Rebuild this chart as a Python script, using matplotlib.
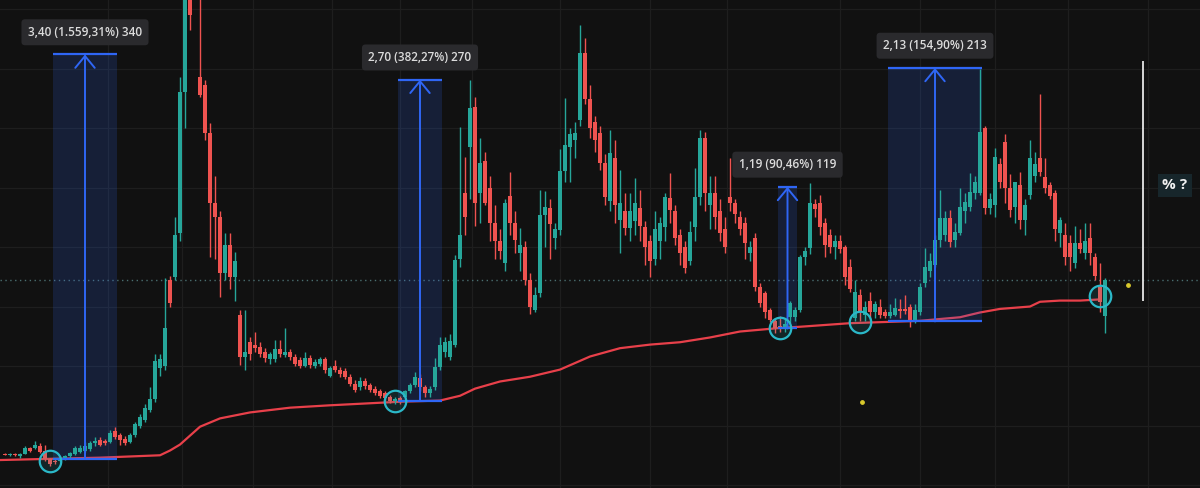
import matplotlib
matplotlib.use("Agg")
import matplotlib.pyplot as plt
import numpy as np

plt.rcParams['font.family'] = ['Open Sans', 'DejaVu Sans']

# daily candles (price)
opens = [
    .26, .25, .26, .24, .26, .31, .31, .33, .29, .22,
    .20, .20, .22, .24, .26, .28, .29, .30, .35, .38,
    .37, .36, .45, .42, .39, .36, .42, .50, .55, .63,
    .72, .98, 1.00, 1.72, 1.75, 2.12, 3.30, 4.30, 4.40, 3.43,
    3.36, 2.96, 2.37, 2.25, 1.78, 2.02, 1.75, 1.43, 1.08, 1.20,
    1.18, 1.16, 1.12, 1.06, 1.06, 1.14, 1.09, 1.12, 1.08, 1.05,
    1.00, 1.07, 1.00, 1.02, 1.06, 0.92, 1.00, 0.97, 0.96, 0.91,
    0.85, 0.82, 0.87, 0.84, 0.81, 0.79, 0.77, 0.74, 0.71, 0.73,
    0.74, 0.79, 0.84, 0.90, 0.82, 0.77, 0.82, 0.99, 1.12, 1.08,
    1.18, 1.90, 2.45, 2.84, 3.18, 2.45, 2.72, 2.50, 2.20, 2.05,
    1.87, 2.43, 2.20, 1.95, 2.00, 1.72, 1.47, 1.61, 2.27, 2.33,
    2.08, 2.14, 2.64, 2.84, 2.90, 3.07, 3.63, 3.24, 3.05, 2.96,
    2.71, 2.39, 2.75, 2.23, 2.30, 2.16, 2.22, 2.33, 2.17, 2.05,
    1.90, 2.05, 2.17, 2.41, 2.30, 2.10, 2.00, 1.88, 2.17, 2.42,
    2.92, 2.35, 2.45, 2.30, 2.15, 2.42, 2.37, 2.25, 2.20, 1.95,
    2.08, 1.66, 1.61, 1.47, 1.38, 1.34, 1.31, 1.41, 1.41, 1.47,
    1.92, 1.99, 2.36, 2.37, 2.20, 2.10, 2.00, 2.05, 2.00, 1.83,
    1.40, 1.60, 1.43, 1.55, 1.45, 1.50, 1.45, 1.42, 1.43, 1.48,
    1.48, 1.50, 1.38, 1.45, 1.70, 1.80, 1.85, 2.06, 2.10, 2.24,
    2.06, 2.12, 2.30, 2.34, 2.45, 2.45, 3.00, 2.33, 2.35, 2.70,
    2.88, 2.50, 2.34, 2.52, 2.23, 2.44, 2.60, 2.75, 2.59, 2.52,
    2.45, 2.12, 2.10, 2.03, 1.87, 2.03, 1.95, 2.08, 1.92, 1.66,
    1.42]
highs = [
    .27, .27, .27, .27, .33, .32, .37, .35, .34, .23,
    .23, .24, .25, .28, .33, .34, .36, .37, .40, .40,
    .39, .46, .49, .44, .41, .44, .53, .60, .68, .82,
    1.10, 1.10, 1.74, 1.76, 2.25, 3.43, 4.60, 4.70, 4.80, 4.50,
    3.40, 3.04, 2.60, 2.30, 2.12, 2.12, 1.96, 1.47, 1.47, 1.24,
    1.29, 1.20, 1.15, 1.12, 1.22, 1.22, 1.32, 1.14, 1.10, 1.08,
    1.12, 1.09, 1.06, 1.08, 1.08, 1.00, 1.05, 0.99, 0.98, 0.93,
    0.88, 0.91, 0.90, 0.86, 0.83, 0.81, 0.79, 0.76, 0.74, 0.75,
    0.80, 0.86, 0.95, 0.93, 0.84, 0.83, 1.07, 1.24, 1.24, 1.27,
    1.93, 3.01, 2.76, 3.40, 3.26, 2.92, 2.80, 2.60, 2.35, 2.15,
    2.40, 2.63, 2.30, 2.16, 2.05, 1.78, 1.66, 2.48, 2.47, 2.40,
    2.20, 2.82, 3.25, 3.00, 3.05, 3.87, 3.76, 3.36, 3.10, 3.02,
    2.78, 2.98, 2.90, 2.65, 2.45, 2.45, 2.58, 2.48, 2.22, 2.10,
    2.30, 2.25, 2.45, 2.62, 2.35, 2.15, 2.05, 2.22, 2.66, 2.98,
    2.97, 2.60, 2.60, 2.40, 2.25, 2.75, 2.40, 2.30, 2.25, 2.05,
    2.12, 1.70, 1.63, 1.49, 1.40, 1.42, 1.40, 1.55, 1.50, 1.93,
    2.00, 2.54, 2.40, 2.44, 2.24, 2.15, 2.10, 2.10, 2.02, 1.90,
    1.72, 1.65, 1.55, 1.62, 1.55, 1.56, 1.48, 1.52, 1.57, 1.56,
    1.60, 1.52, 1.52, 1.70, 1.99, 1.95, 2.10, 2.48, 2.30, 2.31,
    2.20, 2.50, 2.45, 2.62, 2.60, 3.50, 3.02, 2.45, 2.83, 2.75,
    2.95, 2.61, 2.55, 2.63, 2.40, 2.90, 2.80, 3.29, 2.75, 2.55,
    2.48, 2.25, 2.20, 2.10, 2.18, 2.15, 2.20, 2.20, 1.95, 1.87,
    1.74]
lows = [
    .25, .24, .24, .23, .26, .28, .30, .27, .20, .16,
    .18, .19, .21, .23, .25, .27, .28, .29, .33, .33,
    .34, .35, .39, .34, .34, .35, .40, .48, .53, .61,
    .70, .92, .97, 1.50, 1.72, 2.05, 3.00, 3.82, 4.10, 3.26,
    2.90, 1.92, 1.90, 1.58, 1.72, 1.65, 1.55, 1.01, 0.97, 1.05,
    1.12, 1.08, 1.03, 1.02, 1.03, 1.08, 1.08, 1.05, 1.00, 0.98,
    0.99, 0.98, 0.98, 1.00, 0.94, 0.91, 0.95, 0.91, 0.89, 0.83,
    0.78, 0.80, 0.81, 0.78, 0.76, 0.73, 0.71, 0.69, 0.68, 0.68,
    0.73, 0.77, 0.82, 0.79, 0.74, 0.74, 0.80, 0.97, 1.08, 1.05,
    1.16, 1.83, 2.10, 2.40, 2.18, 2.20, 2.35, 2.05, 1.90, 1.90,
    1.80, 2.10, 1.95, 1.80, 1.68, 1.44, 1.45, 1.58, 2.00, 1.90,
    1.98, 2.10, 2.55, 2.55, 2.75, 3.02, 3.20, 2.92, 2.80, 2.65,
    2.35, 2.30, 2.20, 1.95, 2.10, 2.05, 2.10, 2.05, 1.85, 1.75,
    1.85, 1.90, 2.05, 2.20, 2.02, 1.85, 1.78, 1.85, 2.05, 2.35,
    2.30, 2.15, 2.15, 2.05, 1.95, 2.30, 2.20, 2.10, 1.90, 1.88,
    1.63, 1.50, 1.40, 1.37, 1.28, 1.29, 1.29, 1.36, 1.38, 1.45,
    1.85, 1.94, 2.25, 2.10, 1.92, 1.95, 1.90, 1.95, 1.68, 1.62,
    1.38, 1.38, 1.38, 1.38, 1.40, 1.40, 1.40, 1.40, 1.42, 1.40,
    1.44, 1.33, 1.36, 1.43, 1.66, 1.75, 1.83, 2.00, 2.05, 2.00,
    2.00, 2.10, 2.20, 2.30, 2.40, 2.44, 2.28, 2.28, 2.25, 2.50,
    2.37, 2.25, 2.20, 2.15, 2.10, 2.40, 2.55, 2.60, 2.45, 2.40,
    2.05, 2.00, 1.85, 1.80, 1.82, 1.95, 1.90, 1.85, 1.72, 1.45,
    1.28]
closes = [
    .25, .26, .25, .26, .31, .29, .34, .28, .22, .18,
    .19, .23, .24, .27, .31, .31, .33, .35, .37, .34,
    .35, .44, .40, .38, .35, .42, .51, .57, .65, .72,
    1.04, 1.06, 1.32, 1.53, 2.10, 3.30, 4.30, 3.95, 4.20, 3.28,
    2.96, 2.37, 2.25, 1.78, 2.02, 1.75, 1.88, 1.08, 1.12, 1.10,
    1.15, 1.10, 1.07, 1.10, 1.14, 1.10, 1.12, 1.08, 1.02, 1.00,
    1.07, 1.01, 1.03, 1.06, 0.97, 0.98, 0.97, 0.93, 0.91, 0.85,
    0.80, 0.87, 0.83, 0.80, 0.77, 0.75, 0.73, 0.71, 0.72, 0.70,
    0.79, 0.84, 0.91, 0.82, 0.77, 0.81, 0.99, 1.18, 1.20, 1.21,
    1.89, 2.10, 2.25, 3.17, 2.37, 2.71, 2.37, 2.20, 2.05, 1.97,
    2.37, 2.20, 2.06, 2.02, 1.72, 1.50, 1.60, 2.27, 2.34, 2.19,
    2.15, 2.64, 2.86, 2.95, 2.96, 3.63, 3.24, 3.00, 2.90, 2.71,
    2.42, 2.79, 2.35, 2.37, 2.16, 2.30, 2.37, 2.18, 2.00, 1.88,
    2.15, 2.20, 2.42, 2.31, 2.08, 1.95, 1.82, 2.13, 2.42, 2.92,
    2.45, 2.45, 2.25, 2.12, 2.00, 2.37, 2.28, 2.15, 2.03, 2.00,
    1.66, 1.53, 1.45, 1.39, 1.32, 1.31, 1.35, 1.53, 1.47, 1.92,
    1.97, 2.37, 2.32, 2.17, 2.02, 2.00, 2.05, 1.98, 1.75, 1.65,
    1.62, 1.45, 1.50, 1.45, 1.52, 1.43, 1.42, 1.45, 1.49, 1.46,
    1.46, 1.37, 1.47, 1.66, 1.83, 1.88, 2.06, 2.24, 2.24, 2.04,
    2.13, 2.34, 2.38, 2.46, 2.55, 2.97, 2.33, 2.40, 2.76, 2.55,
    2.50, 2.31, 2.55, 2.23, 2.35, 2.75, 2.70, 2.63, 2.50, 2.43,
    2.15, 2.23, 1.92, 1.92, 2.03, 1.98, 2.05, 1.95, 1.76, 1.54,
    1.72]

# long moving average (red line), sampled at bar indices
ma_idx = [-1, 9, 19, 25, 31, 33, 35, 39, 43, 49, 57, 65, 79, 87, 91, 94, 99,
          105, 111, 117, 123, 129, 135, 141, 147, 155, 159, 169, 183, 191,
          195, 199, 205, 207, 211, 215, 219]
ma_val = [0.21, 0.22, 0.23, 0.24, 0.25, 0.29, 0.34, 0.49, 0.56, 0.61, 0.65,
          0.67, 0.70, 0.71, 0.75, 0.81, 0.87, 0.91, 0.97, 1.08, 1.15, 1.18,
          1.20, 1.24, 1.29, 1.32, 1.33, 1.36, 1.38, 1.41, 1.45, 1.48, 1.50,
          1.54, 1.55, 1.55, 1.56]

# price range measurements: first / last bar, change, percent, ticks
meas_start = [10, 79, 155, 177]
meas_end = [22, 87, 158, 195]
meas_delta = [3.40, 2.70, 1.19, 2.13]
meas_pct = [1559.31, 382.27, 90.46, 154.90]
meas_ticks = [340, 270, 119, 213]

# circled touches of the moving average
circ_idx = [9, 78, 155, 171, 219]
circ_price = [0.20, 0.71, 1.32, 1.37, 1.59]

dot_idx = [171.4, 224.6]
dot_price = [0.70, 1.68]

month_lines = [20.6, 35.4, 49.6, 65.4, 79, 93.4, 111, 129, 144.4, 167, 183,
               198, 212.6, 228.6]

BG = '#111111'
GRID = '#1e1e1e'
GREEN = '#26a69a'
RED = '#ef5350'
BLUE = '#2f66f5'


def de_num(v):
    s = f"{v:,.2f}"
    return s.replace(',', '#').replace('.', ',').replace('#', '.')


fig = plt.figure(figsize=(12, 4.88), dpi=100)
fig.patch.set_facecolor(BG)
ax = fig.add_axes([0, 0, 1, 1])
ax.set_facecolor(BG)
ax.set_xlim(-1, 239)
ax.set_ylim(-0.025, 4.076)
for sp in ax.spines.values():
    sp.set_visible(False)
ax.set_xticks([])
ax.set_yticks([])

# grid
for lvl in np.arange(0, 4.01, 0.5):
    ax.axhline(lvl, color=GRID, lw=0.9, zorder=0)
for g in month_lines:
    ax.axvline(g, color=GRID, lw=0.9, zorder=0)

# last price line
ax.axhline(closes[-1], color='#4a6e70', lw=1, ls=(0, (1, 2.5)), zorder=1)

# moving average
ax.plot(ma_idx, ma_val, color='#e8404a', lw=1.6, zorder=1.5)

# measurement boxes
for s, e, d, pct, tk in zip(meas_start, meas_end, meas_delta, meas_pct, meas_ticks):
    base = d / pct * 100
    top = base + d
    x0, x1 = s - 0.4, e + 0.4
    xc = (x0 + x1) / 2
    ax.fill_between([x0, x1], base, top, color=BLUE, alpha=0.17, lw=0, zorder=2)
    ax.hlines([base, top], x0, x1, colors=BLUE, lw=1.6, zorder=5)
    ax.annotate('', xy=(xc, top), xytext=(xc, base),
                arrowprops=dict(arrowstyle='->,head_length=0.85,head_width=0.7',
                                color=BLUE, lw=1.4, shrinkA=0, shrinkB=0),
                zorder=6)
    label = f"{de_num(d)} ({de_num(pct)}%) {tk}"
    ax.annotate(label, xy=(xc, top), xytext=(0, 16), textcoords='offset points',
                ha='center', va='center', fontsize=8.5, fontweight='semibold',
                color='#dcdcdc',
                bbox=dict(boxstyle='round,pad=0.55,rounding_size=0.3',
                          fc='#2a2a2d', ec='none'), zorder=7)

# candles
idx = np.arange(len(opens))
o = np.array(opens)
h = np.array(highs)
l = np.array(lows)
c = np.array(closes)
cols = np.where(c >= o, GREEN, RED)
ax.vlines(idx, l, h, colors=cols, lw=1, zorder=3)
ax.bar(idx, np.maximum(np.abs(c - o), 0.01), bottom=np.minimum(o, c),
       width=0.75, color=cols, lw=0, zorder=4)

# circles and dots
ax.scatter(circ_idx, circ_price, s=240, facecolors=(0.16, 0.72, 0.8, 0.12),
           edgecolors='#2bb8c8', linewidths=1.6, zorder=8)
ax.scatter(dot_idx, dot_price, s=6, color='#d9c92c', zorder=8)

# white range line and question label
ax.vlines(227.6, 1.55, 3.56, colors='#e6e6e6', lw=1.3, zorder=5)
ax.text(234, 2.52, '% ?', ha='center', va='center', fontsize=11,
        fontweight='bold', color='#f0f0f0',
        bbox=dict(boxstyle='square,pad=0.3', fc='#17262b', ec='none'), zorder=7)

fig.savefig('out.png', dpi=100, facecolor=BG)
